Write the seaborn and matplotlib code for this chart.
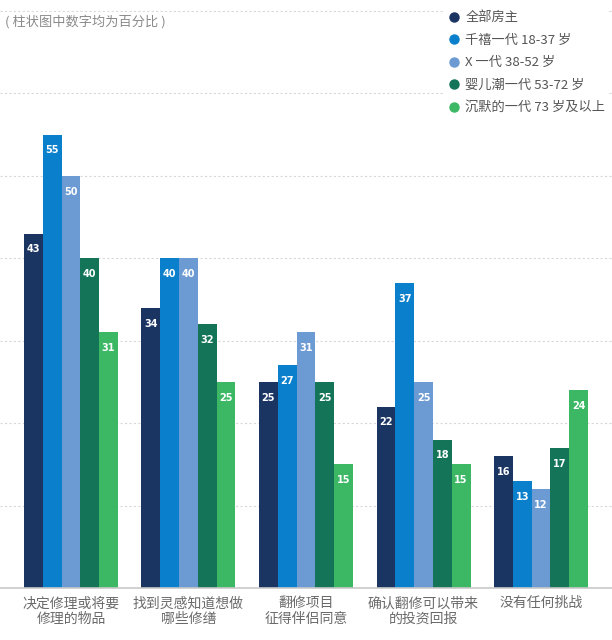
import matplotlib
matplotlib.use("Agg")
import matplotlib.pyplot as plt
import seaborn as sns
import pandas as pd
from matplotlib.lines import Line2D

categories = ["决定修理或将要\n修理的物品", "找到灵感知道想做\n哪些修缮", "翻修项目\n征得伴侣同意",
              "确认翻修可以带来\n的投资回报", "没有任何挑战"]
series_names = ["全部房主", "千禧一代 18-37 岁", "X 一代 38-52 岁", "婴儿潮一代 53-72 岁", "沉默的一代 73 岁及以上"]
all_owners = [43, 34, 25, 22, 16]
millennials = [55, 40, 27, 37, 13]
gen_x = [50, 40, 31, 25, 12]
boomers = [40, 32, 25, 18, 17]
silent = [31, 25, 15, 15, 24]
colors = ["#1b3563", "#0a80cc", "#6c9bd3", "#137458", "#3cb865"]

values = [all_owners, millennials, gen_x, boomers, silent]
rows = []
for name, vals in zip(series_names, values):
    for c, v in zip(categories, vals):
        rows.append({"cat": c, "series": name, "value": v})
df = pd.DataFrame(rows)

sns.set_theme(style="white")
plt.rcParams['font.family'] = ['Noto Sans CJK SC', 'DejaVu Sans']

fig = plt.figure(figsize=(6.12, 6.4), dpi=100)
ppu = 577 / 70.0
ytop = 70.6
ax = fig.add_axes([0, 52/640, 1, ytop * ppu / 640])

sns.barplot(data=df, x="cat", y="value", hue="series", hue_order=series_names,
            order=categories, palette=colors, saturation=1, ax=ax, legend=False,
            width=0.8, edgecolor="none", linewidth=0)

for cont in ax.containers:
    ax.bar_label(cont, padding=-15, color="white", fontsize=7, fontweight="bold",
                 family=['DejaVu Sans'])

ax.set_xlim(-0.604, 4.604)
ax.set_ylim(0, ytop)
ax.set_yticks(range(10, 71, 10))
ax.set_yticklabels([])
ax.tick_params(axis='y', length=0)
ax.tick_params(axis='x', length=0, labelsize=10, labelcolor="#6a6a6a", pad=6)
ax.set_xlabel("")
ax.set_ylabel("")
ax.yaxis.grid(True, color="#d8d8d8", linestyle=(0, (2, 2)), linewidth=0.8)
ax.set_axisbelow(True)
for s in ["top", "left", "right"]:
    ax.spines[s].set_visible(False)
ax.spines["bottom"].set_color("#c8c8c8")
ax.spines["bottom"].set_linewidth(1.2)
for lbl in ax.get_xticklabels():
    lbl.set_linespacing(1.15)
    lbl.set_fontweight(300)

fig.text(0.008, 0.966, "( 柱状图中数字均为百分比 )", fontsize=9.5, color="#8a8a8a",
         va="center", ha="left", fontweight=300,
         bbox=dict(facecolor="white", edgecolor="none", pad=2))

handles = [Line2D([0], [0], marker='o', linestyle='none', markersize=6.5,
                  markerfacecolor=c, markeredgecolor=c) for c in colors]
leg = fig.legend(handles, series_names, loc="upper left", bbox_to_anchor=(0.713, 0.999),
                 frameon=True, fontsize=9.5, labelspacing=0.72, handletextpad=0.4,
                 handlelength=1.0, borderpad=0.3)
leg.get_frame().set_facecolor("white")
leg.get_frame().set_edgecolor("none")
leg.get_frame().set_alpha(1)
for t in leg.get_texts():
    t.set_color("#555555")
    t.set_fontweight(300)

fig.savefig("out.png", dpi=100)
